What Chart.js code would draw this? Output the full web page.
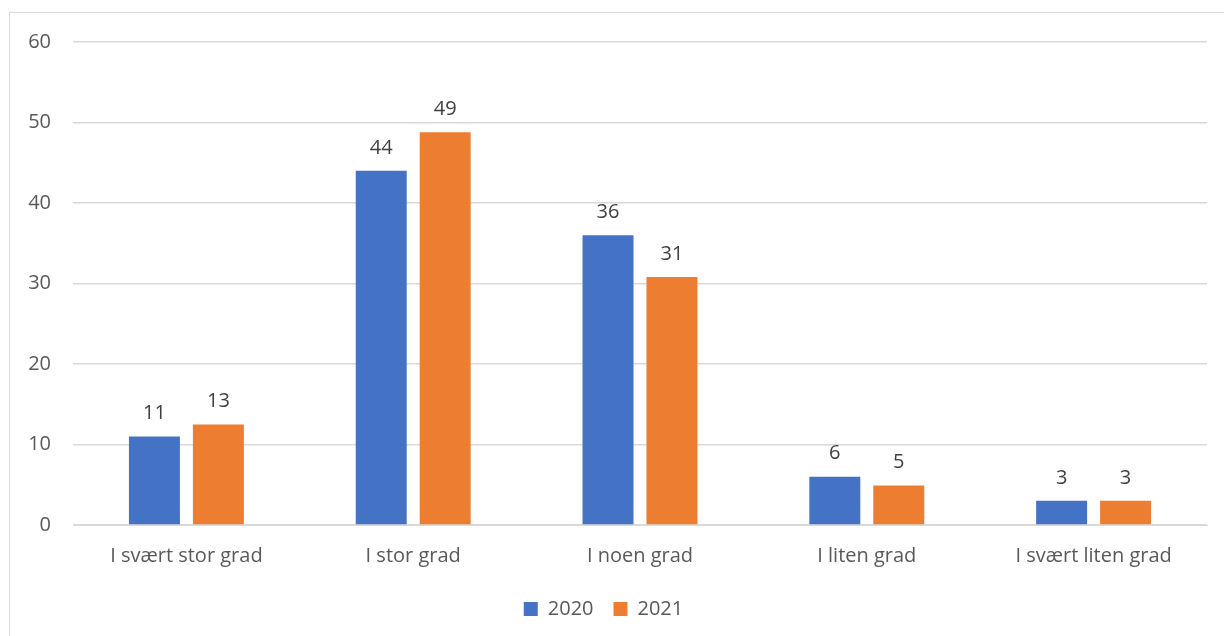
<!DOCTYPE html>
<html>
<head>
<meta charset="utf-8">
<script src="https://cdn.jsdelivr.net/npm/chart.js@4/dist/chart.umd.min.js"></script>
<style>
    body { margin: 0; background: #fff; overflow: hidden; }
    #frame { position: absolute; left: 9px; top: 12px; width: 1230px; height: 640px; border: 1px solid #d9d9d9; }
    #wrap { position: absolute; left: 0; top: 0; width: 1224px; height: 636px; }
</style>
</head>
<body>
<div id="frame"></div>
<div id="wrap"><canvas id="chart" width="1224" height="636"></canvas></div>
<script>
// Categories and series (labels are rounded)
let categories = ['I svært stor grad', 'I stor grad', 'I noen grad', 'I liten grad', 'I svært liten grad'];
let values2020 = [11, 44, 36, 6, 3];
let values2021 = [12.5, 48.8, 30.8, 4.9, 3.0];
let seriesNames = ['2020', '2021'];
let yTicks = [0, 10, 20, 30, 40, 50, 60];

const FONT = "'Open Sans', 'Noto Sans', sans-serif";

// Draw the rounded value above each bar
const valueLabels = {
    id: 'valueLabels',
    afterDatasetsDraw(chart) {
        let ctx = chart.ctx;
        ctx.save();
        ctx.fillStyle = '#404040';
        ctx.font = '20px ' + FONT;
        ctx.textAlign = 'center';
        ctx.textBaseline = 'bottom';
        chart.data.datasets.forEach((ds, i) => {
            chart.getDatasetMeta(i).data.forEach((bar, j) => {
                ctx.fillText(Math.round(ds.data[j]), bar.x, bar.y - 13);
            });
        });
        ctx.restore();
    }
};

let ctx = document.getElementById('chart').getContext('2d');
new Chart(ctx, {
    type: 'bar',
    data: {
        labels: categories,
        datasets: [
            {
                label: seriesNames[0],
                data: values2020,
                backgroundColor: '#4472C4',
                categoryPercentage: 0.564,
                barPercentage: 0.797
            },
            {
                label: seriesNames[1],
                data: values2021,
                backgroundColor: '#ED7D31',
                categoryPercentage: 0.564,
                barPercentage: 0.797
            }
        ]
    },
    options: {
        responsive: false,
        animation: false,
        layout: { padding: { left: 0, right: 17, top: 42, bottom: 7 } },
        plugins: {
            legend: {
                position: 'bottom',
                labels: {
                    font: { family: FONT, size: 20 },
                    color: '#595959',
                    boxWidth: 14,
                    boxHeight: 14,
                    padding: 20
                }
            },
            tooltip: { enabled: false }
        },
        scales: {
            x: {
                grid: { display: false },
                border: { color: '#d9d9d9' },
                ticks: {
                    font: { family: FONT, size: 20 },
                    color: '#595959',
                    padding: 11
                }
            },
            y: {
                min: 0,
                max: 60,
                afterBuildTicks(scale) {
                    scale.ticks = yTicks.map(v => ({ value: v }));
                },
                afterFit(scale) {
                    scale.width = 73;
                },
                grid: { color: '#d9d9d9', drawTicks: false, lineWidth: 1.5 },
                border: { display: false },
                ticks: {
                    font: { family: FONT, size: 20 },
                    color: '#595959',
                    padding: 22
                }
            }
        }
    },
    plugins: [valueLabels]
});
</script>
</body>
</html>
